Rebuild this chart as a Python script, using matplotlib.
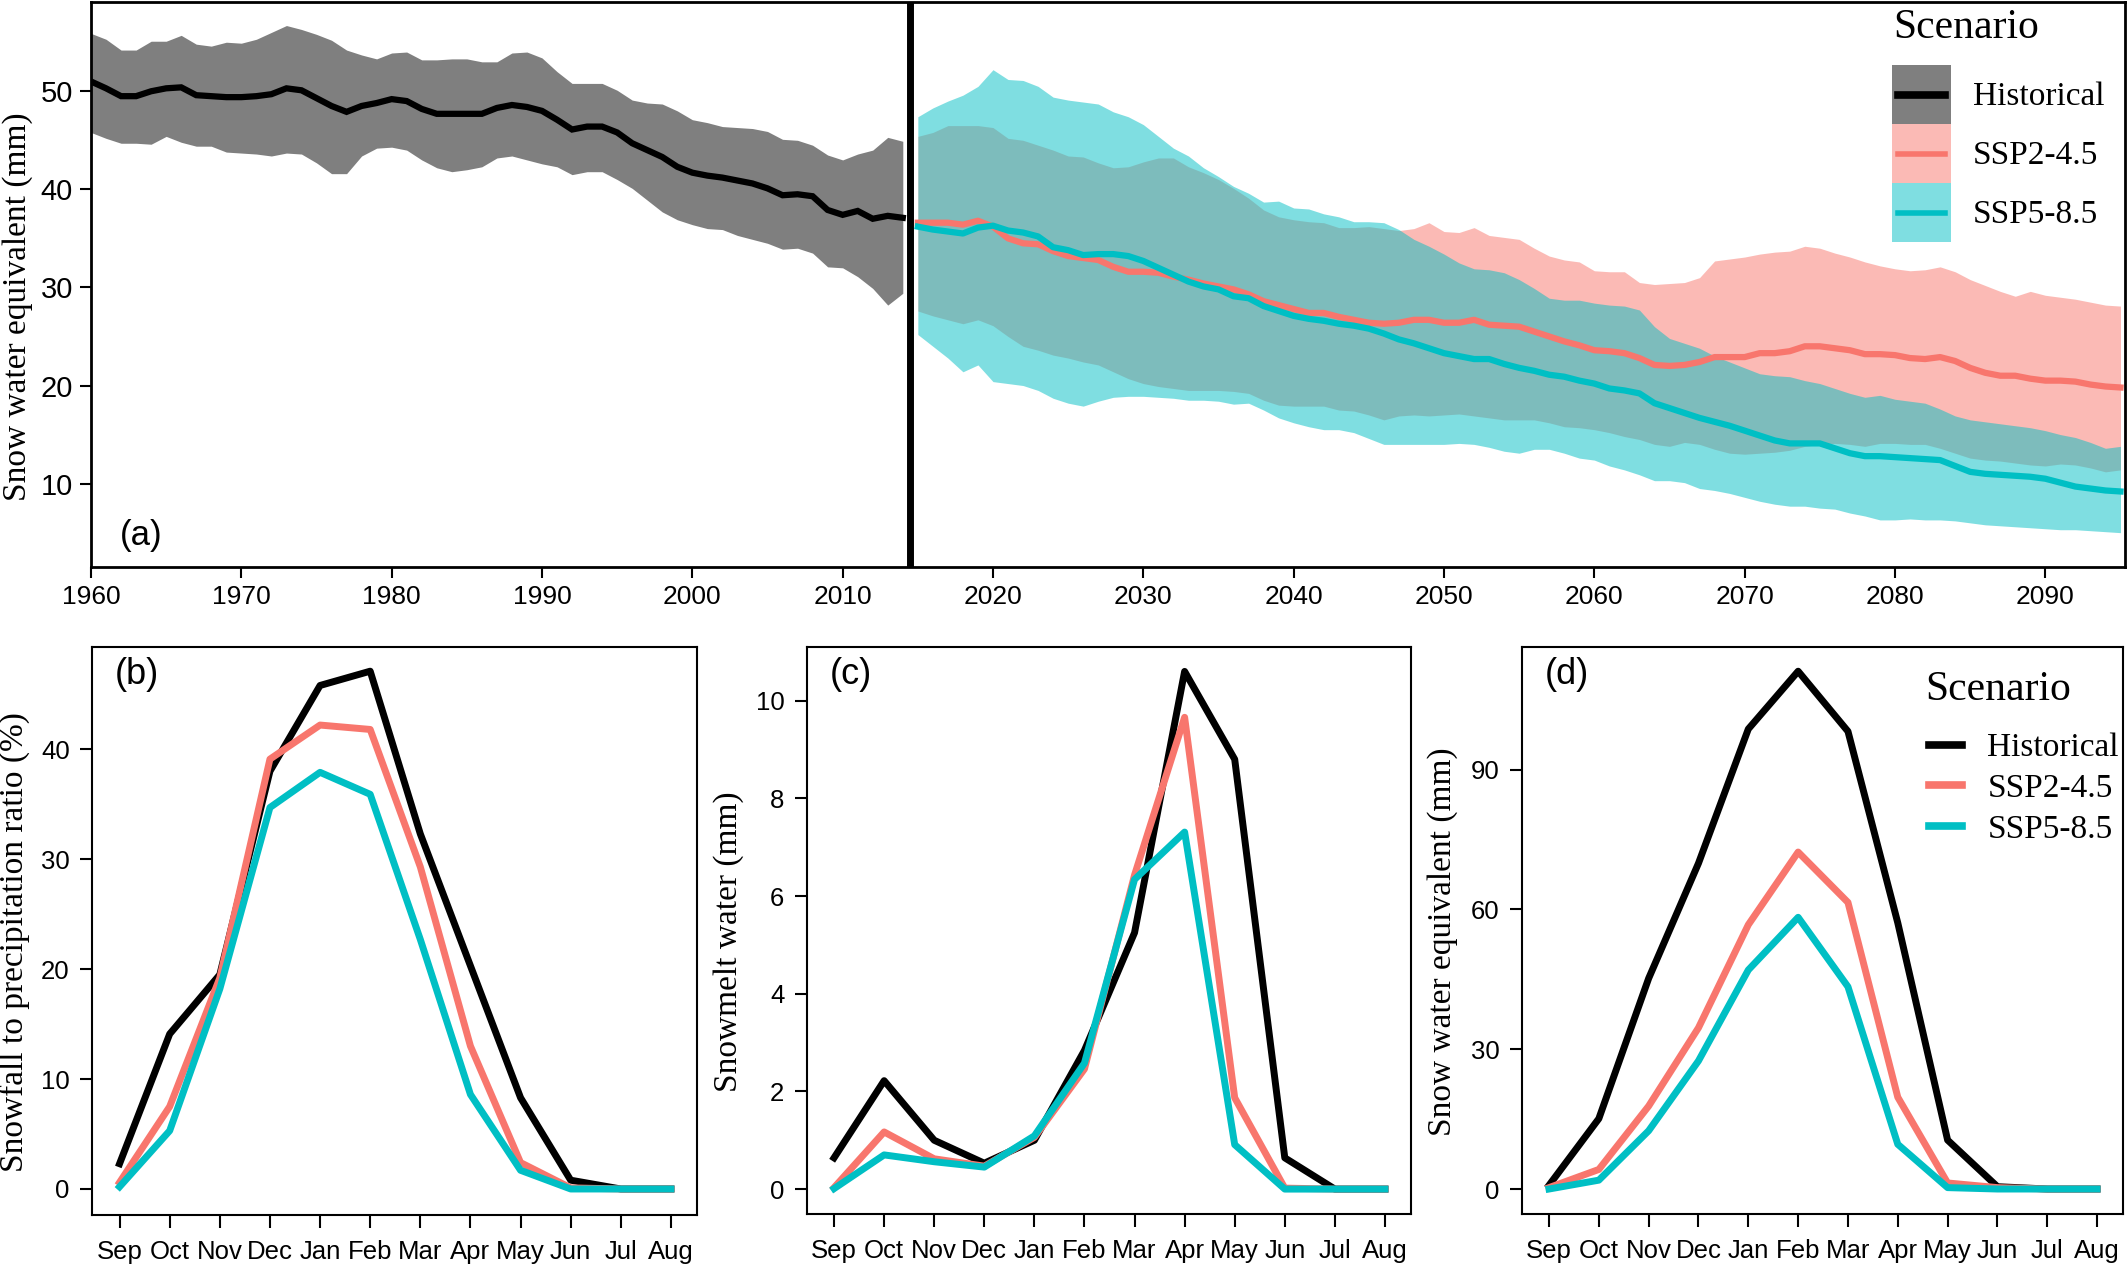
import numpy as np
import matplotlib
matplotlib.use("Agg")
import matplotlib.pyplot as plt
from matplotlib.patches import Patch
from matplotlib.lines import Line2D
from matplotlib.legend_handler import HandlerLine2D

SANS = ['Liberation Sans', 'DejaVu Sans']
SERIF = ['Liberation Serif', 'DejaVu Serif']
plt.rcParams['font.family'] = SANS

RED = '#F8766D'
CYAN = '#00BFC4'
GREY = '#7f7f7f'

# ---- panel (a): annual snow water equivalent ----
hist_years = np.arange(1960, 2015)
fut_years = np.arange(2015, 2096)

hist_mean = [51.0, 50.3, 49.5, 49.5, 50.0, 50.3, 50.4, 49.6, 49.5, 49.4,
             49.4, 49.5, 49.7, 50.3, 50.1, 49.3, 48.5, 47.9, 48.5, 48.8,
             49.2, 49.0, 48.2, 47.7, 47.7, 47.7, 47.7, 48.3, 48.6, 48.4,
             48.0, 47.1, 46.1, 46.4, 46.4, 45.8, 44.7, 44.0, 43.3, 42.3,
             41.7, 41.4, 41.2, 40.9, 40.6, 40.1, 39.4, 39.5, 39.3, 37.9,
             37.4, 37.8, 37.0, 37.3, 37.1]
hist_hi = [55.9, 55.3, 54.2, 54.2, 55.1, 55.1, 55.7, 54.8, 54.6, 55.0,
           54.9, 55.3, 56.0, 56.7, 56.3, 55.8, 55.2, 54.2, 53.7, 53.3,
           53.9, 54.0, 53.2, 53.2, 53.3, 53.3, 53.0, 53.0, 53.9, 54.0,
           53.4, 52.0, 50.8, 50.8, 50.8, 50.1, 49.1, 48.8, 48.7, 48.0,
           47.1, 46.8, 46.4, 46.3, 46.2, 45.9, 45.1, 45.0, 44.5, 43.5,
           43.0, 43.6, 44.0, 45.3, 44.9]
hist_lo = [45.8, 45.2, 44.7, 44.7, 44.6, 45.4, 44.8, 44.4, 44.4, 43.8,
           43.7, 43.6, 43.4, 43.7, 43.6, 42.7, 41.6, 41.6, 43.4, 44.2,
           44.3, 44.0, 43.0, 42.2, 41.8, 42.0, 42.3, 43.2, 43.4, 43.0,
           42.6, 42.3, 41.5, 41.8, 41.8, 41.0, 40.1, 38.9, 37.7, 36.9,
           36.4, 36.0, 35.9, 35.3, 34.9, 34.5, 33.9, 34.0, 33.5, 32.1,
           32.0, 31.1, 29.9, 28.2, 29.4]

ssp245_mean = [36.6, 36.6, 36.6, 36.4, 36.8, 36.2, 35.0, 34.5, 34.4, 33.7,
               33.2, 33.0, 32.8, 32.1, 31.6, 31.6, 31.5, 31.1, 30.8, 30.4,
               30.1, 29.8, 29.3, 28.6, 28.2, 27.8, 27.4, 27.4, 27.0, 26.7,
               26.4, 26.3, 26.4, 26.7, 26.7, 26.4, 26.4, 26.7, 26.2, 26.1,
               26.0, 25.5, 25.0, 24.5, 24.1, 23.6, 23.5, 23.3, 22.8, 22.1,
               22.0, 22.1, 22.4, 22.9, 22.9, 22.9, 23.3, 23.3, 23.5, 24.0,
               24.0, 23.8, 23.6, 23.2, 23.2, 23.1, 22.8, 22.7, 22.9, 22.5,
               21.8, 21.3, 21.0, 21.0, 20.7, 20.5, 20.5, 20.4, 20.1, 19.9,
               19.8]
ssp245_hi = [45.4, 45.8, 46.5, 46.5, 46.5, 46.3, 45.2, 45.0, 44.5, 44.0,
             43.4, 43.3, 42.7, 42.2, 42.3, 42.8, 43.2, 43.2, 42.3, 41.7,
             41.0, 40.1, 39.1, 37.9, 37.2, 36.9, 36.7, 36.6, 36.1, 36.1,
             36.2, 36.0, 35.8, 36.0, 36.6, 35.7, 35.6, 36.1, 35.3, 35.1,
             34.9, 34.0, 33.2, 32.8, 32.6, 31.7, 31.6, 31.6, 30.5, 30.3,
             30.4, 30.5, 31.0, 32.7, 32.9, 33.1, 33.4, 33.6, 33.7, 34.2,
             34.0, 33.5, 33.1, 32.6, 32.2, 31.9, 31.7, 31.8, 32.1, 31.6,
             30.8, 30.2, 29.6, 29.1, 29.6, 29.2, 29.0, 28.8, 28.5, 28.2,
             28.1]
ssp245_lo = [27.6, 27.1, 26.7, 26.3, 26.7, 26.1, 25.0, 24.0, 23.6, 23.1,
             22.8, 22.4, 22.1, 21.4, 20.7, 20.2, 19.9, 19.7, 19.5, 19.5,
             19.5, 19.4, 19.2, 18.5, 18.0, 17.9, 17.9, 17.9, 17.5, 17.4,
             17.0, 16.5, 16.9, 17.0, 16.9, 17.0, 17.1, 16.9, 16.7, 16.5,
             16.5, 16.5, 16.2, 15.8, 15.7, 15.5, 15.2, 14.8, 14.5, 14.0,
             13.8, 14.2, 14.0, 13.5, 13.1, 13.0, 13.1, 13.2, 13.4, 13.8,
             14.0, 14.1, 14.0, 13.8, 14.1, 14.1, 14.0, 14.0, 13.6, 13.1,
             12.6, 12.4, 12.3, 12.1, 11.9, 11.8, 12.0, 11.9, 11.6, 11.2,
             11.4]

ssp585_mean = [36.2, 35.9, 35.7, 35.5, 36.1, 36.3, 35.8, 35.6, 35.2, 34.1,
               33.8, 33.3, 33.4, 33.4, 33.2, 32.7, 32.0, 31.3, 30.6, 30.1,
               29.8, 29.1, 28.9, 28.1, 27.6, 27.1, 26.8, 26.6, 26.3, 26.1,
               25.8, 25.3, 24.7, 24.3, 23.8, 23.3, 23.0, 22.7, 22.7, 22.2,
               21.8, 21.5, 21.1, 20.9, 20.5, 20.2, 19.7, 19.5, 19.2, 18.2,
               17.7, 17.2, 16.7, 16.3, 15.9, 15.4, 14.9, 14.4, 14.1, 14.1,
               14.1, 13.6, 13.1, 12.8, 12.8, 12.7, 12.6, 12.5, 12.4, 11.8,
               11.2, 11.0, 10.9, 10.8, 10.7, 10.5, 10.1, 9.7, 9.5, 9.3,
               9.2]
ssp585_hi = [47.4, 48.3, 49.0, 49.6, 50.5, 52.2, 51.2, 51.1, 50.5, 49.4,
             49.1, 48.9, 48.7, 47.9, 47.4, 46.6, 45.4, 44.2, 43.4, 42.2,
             41.3, 40.3, 39.6, 38.7, 38.8, 38.1, 38.0, 37.5, 37.2, 36.7,
             36.7, 36.6, 35.9, 34.9, 34.2, 33.4, 32.5, 31.9, 31.8, 31.5,
             30.8, 29.9, 28.9, 28.7, 28.7, 28.4, 28.2, 28.1, 27.7, 26.0,
             24.8, 24.3, 23.8, 23.0, 22.4, 21.8, 21.2, 21.0, 20.9, 20.5,
             20.2, 19.7, 19.2, 18.8, 19.0, 18.6, 18.4, 18.2, 17.6, 16.9,
             16.5, 16.3, 16.1, 15.9, 15.7, 15.4, 15.0, 14.7, 14.2, 13.6,
             13.8]
ssp585_lo = [25.2, 24.0, 22.8, 21.4, 22.1, 20.4, 20.2, 20.0, 19.5, 18.7,
             18.2, 17.9, 18.4, 18.8, 18.9, 18.9, 18.8, 18.7, 18.5, 18.5,
             18.4, 18.1, 18.2, 17.5, 16.7, 16.2, 15.8, 15.5, 15.5, 15.2,
             14.6, 14.0, 14.0, 14.0, 14.0, 14.0, 14.1, 14.0, 13.7, 13.3,
             13.1, 13.5, 13.5, 13.1, 12.6, 12.4, 11.8, 11.4, 10.9, 10.3,
             10.3, 10.1, 9.5, 9.3, 9.0, 8.6, 8.2, 7.9, 7.7, 7.7,
             7.5, 7.4, 7.0, 6.7, 6.3, 6.3, 6.4, 6.3, 6.3, 6.2,
             6.0, 5.8, 5.7, 5.6, 5.5, 5.4, 5.3, 5.3, 5.2, 5.1,
             5.0]

# ---- panels (b)-(d): monthly climatology ----
months = ['Sep', 'Oct', 'Nov', 'Dec', 'Jan', 'Feb',
          'Mar', 'Apr', 'May', 'Jun', 'Jul', 'Aug']

hist_b = [2.3, 14.1, 19.5, 38.0, 45.8, 47.1, 32.3, 20.3, 8.3, 0.8, 0.0, 0.0]
ssp245_b = [0.6, 7.5, 19.2, 39.1, 42.2, 41.8, 29.3, 13.0, 2.4, 0.1, 0.0, 0.0]
ssp585_b = [0.2, 5.3, 18.2, 34.7, 37.9, 35.9, 22.7, 8.6, 1.7, 0.0, 0.0, 0.0]

hist_c = [0.64, 2.22, 1.0, 0.53, 1.0, 2.84, 5.25, 10.6, 8.8, 0.64, 0.0, 0.0]
ssp245_c = [0.03, 1.17, 0.62, 0.47, 1.06, 2.46, 6.43, 9.66, 1.87, 0.02, 0.0, 0.0]
ssp585_c = [0.01, 0.70, 0.56, 0.45, 1.09, 2.58, 6.34, 7.31, 0.91, 0.0, 0.0, 0.0]

hist_d = [0.8, 15.1, 45.2, 69.9, 98.7, 111.1, 98.2, 57.1, 10.5, 0.5, 0.0, 0.0]
ssp245_d = [0.3, 4.2, 17.8, 34.6, 56.7, 72.3, 61.5, 19.7, 1.3, 0.3, 0.0, 0.0]
ssp585_d = [0.0, 1.9, 12.5, 27.5, 47.0, 58.3, 43.4, 9.6, 0.3, 0.0, 0.0, 0.0]

scenarios = ['Historical', 'SSP2-4.5', 'SSP5-8.5']

W, H = 2128, 1266
fig = plt.figure(figsize=(W / 100, H / 100), dpi=100)


def px_axes(left, top, right, bottom):
    return fig.add_axes([left / W, 1 - bottom / H, (right - left) / W, (bottom - top) / H])


class CentredLine(HandlerLine2D):
    # put the legend line in the middle of the swatch drawn behind it
    def create_artists(self, legend, orig_handle, xdescent, ydescent,
                       width, height, fontsize, trans):
        arts = super().create_artists(legend, orig_handle, xdescent, ydescent,
                                      width, height, fontsize, trans)
        y = height / 2 - ydescent
        for a in arts:
            a.set_ydata(np.full(len(a.get_xdata()), y))
        return arts


# ---------------- top panel ----------------
ax = px_axes(91, 2, 2125, 567)
ax.fill_between(hist_years, hist_lo, hist_hi, color=GREY, lw=0)
ax.plot(hist_years, hist_mean, color='black', lw=4.5, solid_joinstyle='miter')
ax.axvline(2014.5, color='black', lw=5)
ax.fill_between(fut_years, ssp245_lo, ssp245_hi, color=RED, alpha=0.5, lw=0)
ax.fill_between(fut_years, ssp585_lo, ssp585_hi, color=CYAN, alpha=0.5, lw=0)
ax.plot(fut_years, ssp245_mean, color=RED, lw=4.5)
ax.plot(fut_years, ssp585_mean, color=CYAN, lw=4.5)

ax.set_xlim(1960, 2095.3)
ax.set_ylim(1.5, 59.1)
ax.set_xticks(np.arange(1960, 2091, 10))
ax.set_yticks([10, 20, 30, 40, 50])
ax.tick_params(direction='out', length=8, width=1.5, pad=5)
for lab in ax.get_xticklabels():
    lab.set_family(['Liberation Sans Narrow', 'Liberation Sans'])
    lab.set_fontsize(19)
for lab in ax.get_yticklabels():
    lab.set_family(['Liberation Sans Narrow', 'Liberation Sans'])
    lab.set_fontsize(21)
for s in ax.spines.values():
    s.set_linewidth(2)
ax.set_ylabel('Snow water equivalent (mm)', family=SERIF, fontsize=24)
ax.yaxis.set_label_coords(-0.0285, 0.46)
ax.text(0.014, 0.026, '(a)', transform=ax.transAxes, fontsize=25, va='bottom')

top_handles = [
    (Patch(facecolor=GREY, edgecolor='none'), Line2D([], [], color='black', lw=5.5)),
    (Patch(facecolor=RED, alpha=0.5, edgecolor='none'), Line2D([], [], color=RED, lw=4)),
    (Patch(facecolor=CYAN, alpha=0.5, edgecolor='none'), Line2D([], [], color=CYAN, lw=4)),
]
fs = 24 * 100 / 72
# handle height chosen so each swatch is ~59 px tall and the swatches touch
hh = (59 / fs - 0.245) / 0.65
ax.legend(top_handles, scenarios, loc='upper left',
          bbox_to_anchor=(1892 / W, 1 - 65 / H), bbox_transform=fig.transFigure,
          frameon=False, borderpad=0, borderaxespad=0, labelspacing=0,
          handlelength=59 / fs, handleheight=hh, handletextpad=22 / fs,
          handler_map={Line2D: CentredLine(marker_pad=0.18, numpoints=2)},
          prop={'family': SERIF, 'size': 24})
fig.text(1893 / W, 1 - 38 / H, 'Scenario', family=SERIF, fontsize=30, va='baseline')

# ---------------- bottom panels ----------------
panels = [
    dict(box=(92, 647, 697, 1214.6), ylim=(-2.33, 49.3), yt=[0, 10, 20, 30, 40],
         data=(hist_b, ssp245_b, ssp585_b), lab='Snowfall to precipitation ratio (%)',
         tag='(b)', lx=-0.1025),
    dict(box=(806.5, 647, 1411, 1214), ylim=(-0.51, 11.1), yt=[0, 2, 4, 6, 8, 10],
         data=(hist_c, ssp245_c, ssp585_c), lab='Snowmelt water (mm)',
         tag='(c)', lx=-0.103),
    dict(box=(1521.6, 647, 2123, 1214), ylim=(-5.36, 116.3), yt=[0, 30, 60, 90],
         data=(hist_d, ssp245_d, ssp585_d), lab='Snow water equivalent (mm)',
         tag='(d)', lx=-0.106),
]
x = np.arange(len(months))
for p in panels:
    l, t, r, b = p['box']
    a = px_axes(l, t, r, b)
    for series, col in zip(p['data'], ['black', RED, CYAN]):
        a.plot(x, series, color=col, lw=5)
    a.set_xlim(-0.55, 11.52)
    a.set_ylim(*p['ylim'])
    a.set_xticks(x)
    a.set_xticklabels(months)
    a.set_yticks(p['yt'])
    a.tick_params(direction='out', length=9, width=1.5, pad=9, labelsize=18.5)
    a.tick_params(axis='y', pad=7)
    for s in a.spines.values():
        s.set_linewidth(1.5)
    a.set_ylabel(p['lab'], family=SERIF, fontsize=24)
    a.yaxis.set_label_coords(p['lx'], 0.48)
    a.text(0.038, 0.982, p['tag'], transform=a.transAxes, fontsize=26, va='top')
    last = a

line_handles = [Line2D([], [], color=c, lw=5.5) for c in ['black', RED, CYAN]]
last.legend(line_handles, scenarios, loc='upper left',
            bbox_to_anchor=(1929 / W, 1 - 733 / H), bbox_transform=fig.transFigure,
            frameon=False, borderpad=0, borderaxespad=0, labelspacing=0.3,
            handlelength=1.0, handletextpad=0.75,
            prop={'family': SERIF, 'size': 24})
fig.text(1925 / W, 1 - 700 / H, 'Scenario', family=SERIF, fontsize=30, va='baseline')

fig.savefig('out.png', dpi=100)
